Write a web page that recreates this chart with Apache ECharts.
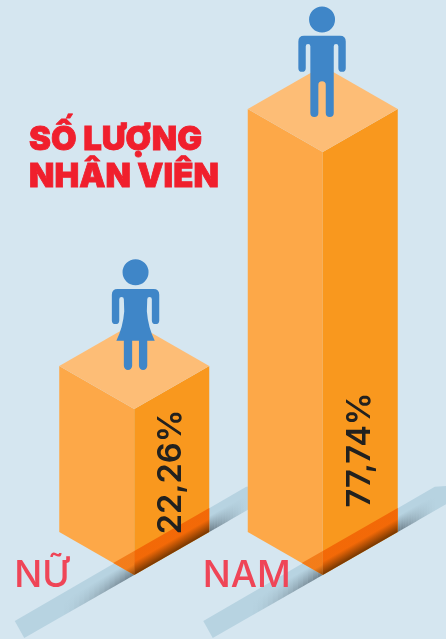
<!DOCTYPE html>
<html><head><meta charset="utf-8">
<style>html,body{margin:0;padding:0;background:#d5e6f0}#c{width:446px;height:639px}</style>
<script src="https://cdn.jsdelivr.net/npm/echarts@6/dist/echarts.min.js"></script>
</head><body><div id="c"></div>
<script>
const categories = ['NỮ', 'NAM'];
const shares = [22.26, 77.74];
const valueLabels = ['22,26%', '77,74%'];
const titleLines = 'SỐ LƯỢNG\nNHÂN VIÊN';
const baseValue = -13.6;

const MAN = 'M-13 13A13 13 0 1 1 13 13A13 13 0 1 1-13 13Z' +
  'M-18 29.2L18 29.2Q23.7 29.2 23.7 35L23.7 61.5A3.7 3.7 0 0 1 16.3 61.5L16.3 39.8A2.3 2.3 0 0 0 11.7 39.8' +
  'L11.7 106.2A4 4 0 0 1 3.7 106.2L3.7 78.2A3.7 3.7 0 0 0-3.7 78.2L-3.7 106.2A4 4 0 0 1-11.7 106.2' +
  'L-11.7 39.8A2.3 2.3 0 0 0-16.3 39.8L-16.3 61.5A3.7 3.7 0 0 1-23.7 61.5L-23.7 35Q-23.7 29.2-18 29.2Z';
const WOMAN = 'M-13 13A13 13 0 1 1 13 13A13 13 0 1 1-13 13Z' +
  'M-18 29.6L18 29.6Q23.7 29.6 23.7 35.4L23.7 61A3.7 3.7 0 0 1 16.3 61L16.3 40A2.3 2.3 0 0 0 11.7 40' +
  'L11.3 52Q12.5 68 19.2 81.3L11.7 81.3L11.7 106.3A4 4 0 0 1 3.4 106.3L3.4 81.3L-3.4 81.3L-3.4 106.3A4 4 0 0 1-11.7 106.3' +
  'L-11.7 81.3L-19.2 81.3Q-12.5 68-11.3 52L-11.7 40A2.3 2.3 0 0 0-16.3 40L-16.3 61A3.7 3.7 0 0 1-23.7 61L-23.7 35.4Q-23.7 29.6-18 29.6Z';

const HW = 75, DY = 43, STRIP = 24;
const labelCenterAboveBase = [103, 125];
const figures = [
  {path: WOMAN, dx: 1.3, top: 259.4 - 409},
  {path: MAN, dx: -0.7, top: 6.5 - 152}
];

function poly(pts, fill) {
  return {type: 'polygon', shape: {points: pts}, style: {fill: fill}};
}
function renderItem(params, api) {
  const i = api.value(0);
  const top = api.coord([i, api.value(1)]);
  const base = api.coord([i, baseValue]);
  const cx = top[0], ty = top[1], by = base[1];
  const k = DY / HW;
  const lower = d => [cx + d, by - d * k];
  const upper = d => [cx + d, by - STRIP - d * k];
  const acrossStrip = (stops) => ({type: 'linear', global: true, x: cx - 10.4, y: by - 18.1, x2: cx, y2: by, colorStops: stops});
  // soft shadow next to the box: short slices that fade out along the strip
  const shadow = (d0, d1) => {
    const n = 14, out = [];
    for (let j = 0; j < n; j++) {
      const a = d0 + (d1 - d0) * j / n, b = d0 + (d1 - d0) * (j + 1) / n;
      const alpha = 0.6 * Math.pow(1 - j / n, 1.4);
      out.push(poly([upper(a), upper(b), lower(b), lower(a)], acrossStrip([
        {offset: 0, color: 'rgba(60,75,85,0)'}, {offset: 0.35, color: 'rgba(60,75,85,0)'}, {offset: 1, color: 'rgba(60,70,80,' + alpha.toFixed(3) + ')'}])));
    }
    return out;
  };
  const children = [
    // ground strip
    poly([lower(-110), [cx - 119.5, by + 46], upper(112), [cx + 125, by - 89], lower(125)], '#b7d3e1'),
    ...shadow(0, -70),
    ...shadow(HW, 112),
    // box faces
    poly([[cx - HW, ty - DY], [cx, ty], [cx, by], [cx - HW, by - DY]], '#fda848'),
    poly([[cx, ty], [cx + HW, ty - DY], [cx + HW, by - DY], [cx, by]], '#f9981e'),
    poly([[cx, ty], [cx - HW, ty - DY], [cx, ty - 2 * DY], [cx + HW, ty - DY]], '#fdbd76'),
    // strip seen through the box
    poly([upper(-21), upper(0), lower(0)], acrossStrip([
      {offset: 0, color: 'rgba(240,110,10,0.75)'}, {offset: 0.55, color: 'rgba(240,110,10,0.75)'}, {offset: 1, color: 'rgba(120,60,10,0.9)'}])),
    poly([upper(0), upper(HW), lower(HW), lower(0)], acrossStrip([
      {offset: 0, color: 'rgba(242,100,5,0.9)'}, {offset: 0.45, color: 'rgba(242,100,5,0.9)'}, {offset: 1, color: 'rgba(110,50,0,0.95)'}])),
    // figure standing on the box
    {type: 'path', shape: {pathData: figures[i].path, x: cx + figures[i].dx - 23.7, y: ty + figures[i].top, width: 47.4, height: 110.6, layout: 'cover'},
      style: {fill: '#3f86c8'}},
    // value on the right face
    {type: 'text', x: cx + 37, y: by - labelCenterAboveBase[i], rotation: Math.PI / 2,
      style: {text: valueLabels[i], font: '600 32.5px Inter, sans-serif', fill: '#22211f', align: 'center', verticalAlign: 'middle'}},
    // category name
    {type: 'text', x: cx - 120, y: by + 0.5,
      style: {text: categories[i], font: '500 37px Inter, sans-serif', fill: '#ef4557', align: 'left', verticalAlign: 'middle'}}
  ];
  return {type: 'group', children: children};
}

const chart = echarts.init(document.getElementById('c'), null, {renderer: 'canvas'});
chart.setOption({
  animation: false,
  backgroundColor: '#d5e6f0',
  title: {text: titleLines, left: 24, top: 117, textStyle: {fontFamily: 'Inter, sans-serif', fontWeight: 900, fontSize: 33, lineHeight: 37, color: '#f01f2d', textBorderColor: '#f01f2d', textBorderWidth: 0.8}},
  grid: {left: 40, width: 377, top: 0, height: 639},
  xAxis: {type: 'category', data: categories, show: false},
  yAxis: {type: 'value', min: -27.42, max: 110.54, show: false},
  series: [{
    type: 'custom',
    renderItem: renderItem,
    clip: false,
    encode: {x: 0, y: 1},
    data: shares.map((v, i) => [i, v])
  }]
});
</script></body></html>
